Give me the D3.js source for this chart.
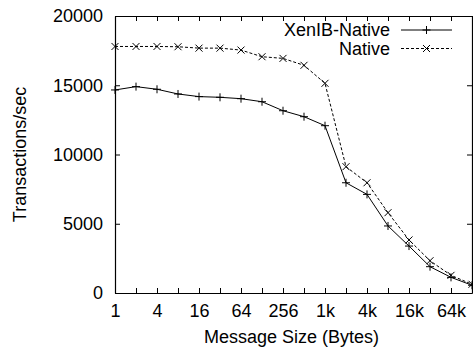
<!DOCTYPE html>
<html lang="en">
<head>
<meta charset="utf-8">
<style>
  body { margin: 0; background: white; }
  svg { font-family: "Liberation Sans", Arial, sans-serif; }
  .axis text { font-size: 18px; fill: black; }
  .axis line, .axis path { stroke: black; }
  .series { fill: none; stroke: black; stroke-width: 1; }
  .mark { fill: none; stroke: black; stroke-width: 1; }
</style>
</head>
<body>
<svg width="473" height="350"></svg>
<script src="https://d3js.org/d3.v7.min.js"></script>
<script>
// message sizes in bytes, 2^0 .. 2^17
const sizes = [1, 2, 4, 8, 16, 32, 64, 128, 256, 512, 1024, 2048, 4096, 8192, 16384, 32768, 65536, 131072]
const xenib = [14660, 14900, 14710, 14370, 14180, 14130, 14030, 13810, 13160, 12730, 12080, 7960, 7120, 4840, 3390, 1900, 1130, 560]
const native = [17800, 17800, 17800, 17780, 17680, 17680, 17540, 17060, 16940, 16440, 15140, 9120, 7960, 5800, 3830, 2330, 1275, 630]
const xTickLabels = {1: "1", 4: "4", 16: "16", 64: "64", 256: "256", 1024: "1k", 4096: "4k", 16384: "16k", 65536: "64k"}
const yTicks = [0, 5000, 10000, 15000, 20000]
const seriesNames = ["XenIB-Native", "Native"]

const margin = { top: 16, right: 1, bottom: 57, left: 115 }
const width = 473, height = 350

const svg = d3.select("svg")

const x = d3.scaleLog().base(2)
  .domain([1, 131072])
  .range([margin.left, width - margin.right])
const y = d3.scaleLinear()
  .domain([0, 20000])
  .range([height - margin.bottom, margin.top])

// bottom axis, ticks pointing inward
svg.append("g")
  .attr("class", "axis")
  .attr("transform", "translate(0," + (height - margin.bottom) + ")")
  .call(d3.axisBottom(x).tickValues(sizes).tickSize(-5).tickSizeOuter(0).tickPadding(11)
    .tickFormat(d => xTickLabels[d] || ""))
// mirrored top
svg.append("g")
  .attr("class", "axis")
  .attr("transform", "translate(0," + margin.top + ")")
  .call(d3.axisTop(x).tickValues(sizes).tickSize(-5).tickSizeOuter(0).tickFormat(""))

svg.append("g")
  .attr("class", "axis")
  .attr("transform", "translate(" + margin.left + ",0)")
  .call(d3.axisLeft(y).tickValues(yTicks).tickSize(-5).tickSizeOuter(0).tickPadding(12).tickFormat(d3.format("d")))
svg.append("g")
  .attr("class", "axis")
  .attr("transform", "translate(" + (width - margin.right) + ",0)")
  .call(d3.axisRight(y).tickValues(yTicks).tickSize(-5).tickSizeOuter(0).tickFormat(""))

svg.selectAll(".axis .domain").attr("stroke-width", 1.2)

const plusPath = "M-4,0H4M0,-4V4"
const crossPath = "M-3.5,-3.5L3.5,3.5M3.5,-3.5L-3.5,3.5"

function drawSeries(values, dash, marker) {
  const pts = sizes.map((s, i) => [s, values[i]])
  svg.append("path")
    .datum(pts)
    .attr("class", "series")
    .attr("stroke-dasharray", dash)
    .attr("d", d3.line().x(d => x(d[0])).y(d => y(d[1])))
  svg.append("g").selectAll("path")
    .data(pts)
    .join("path")
    .attr("class", "mark")
    .attr("transform", d => "translate(" + x(d[0]) + "," + y(d[1]) + ")")
    .attr("d", marker)
}

drawSeries(xenib, null, plusPath)
drawSeries(native, "3,2", crossPath)

// legend
const legend = svg.append("g")
const legendRows = [
  { name: seriesNames[0], dash: null, marker: plusPath, y: 30 },
  { name: seriesNames[1], dash: "3,2", marker: crossPath, y: 48.5 }
]
legendRows.forEach(r => {
  legend.append("text")
    .attr("x", 390).attr("y", r.y).attr("dy", "0.35em")
    .attr("text-anchor", "end")
    .attr("font-size", 18)
    .text(r.name)
  legend.append("line")
    .attr("class", "series")
    .attr("x1", 401).attr("x2", 452).attr("y1", r.y).attr("y2", r.y)
    .attr("stroke-dasharray", r.dash)
  legend.append("path")
    .attr("class", "mark")
    .attr("transform", "translate(426.5," + r.y + ")")
    .attr("d", r.marker)
})

// axis titles
svg.append("text")
  .attr("x", (margin.left + width - margin.right) / 2 - 2)
  .attr("y", 343)
  .attr("text-anchor", "middle")
  .attr("font-size", 18)
  .text("Message Size (Bytes)")
svg.append("text")
  .attr("transform", "translate(26," + (margin.top + height - margin.bottom) / 2 + ") rotate(-90)")
  .attr("text-anchor", "middle")
  .attr("font-size", 18)
  .text("Transactions/sec")
</script>
</body>
</html>
